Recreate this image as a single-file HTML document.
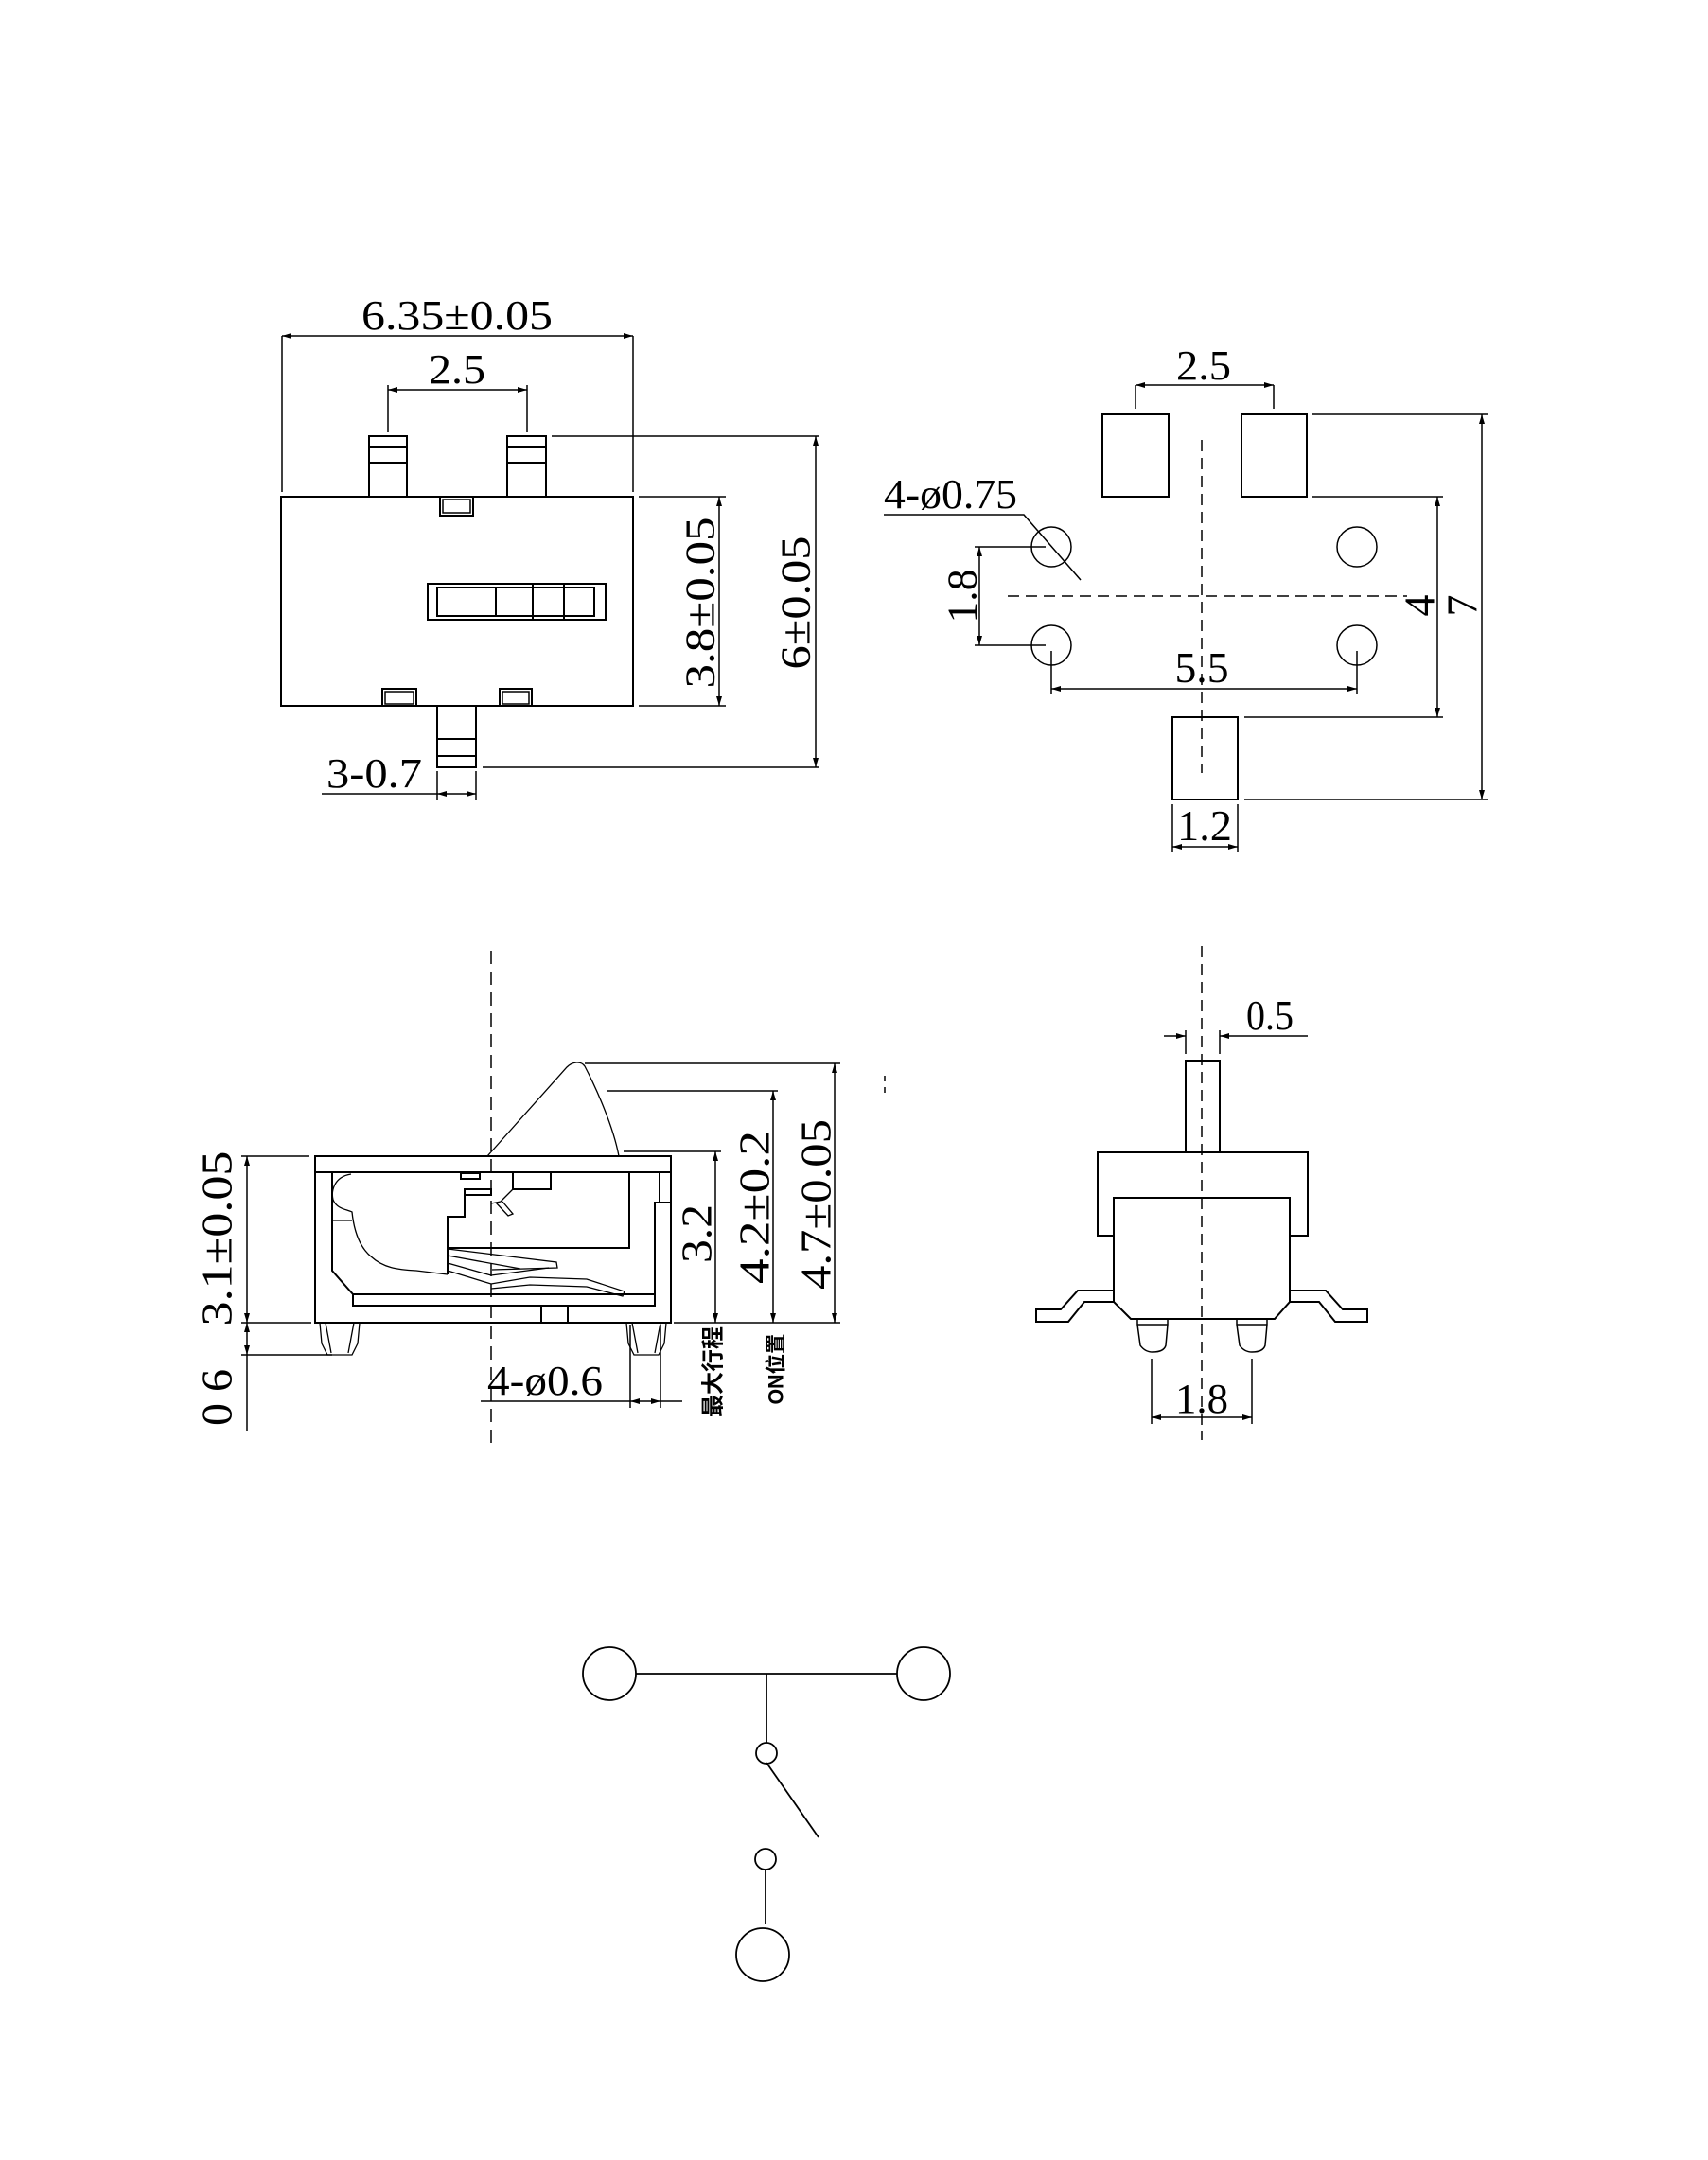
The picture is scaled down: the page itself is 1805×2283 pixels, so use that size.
<!DOCTYPE html>
<html><head><meta charset="utf-8"><style>
html,body{margin:0;padding:0;background:#fff}
svg{display:block}
text{font-family:"Liberation Serif","Noto Serif CJK SC",serif;fill:#000}
.cjk{font-family:"Liberation Sans","Noto Sans CJK SC",sans-serif}
</style></head><body>
<svg width="1805" height="2283" viewBox="0 0 1805 2283" xmlns="http://www.w3.org/2000/svg">
<defs>
<marker id="a" viewBox="0 0 10 6" refX="10" refY="3" markerWidth="10" markerHeight="6" markerUnits="userSpaceOnUse" orient="auto-start-reverse"><path d="M0,0 L10,3 L0,6 z" fill="#000"/></marker>
</defs>
<rect width="1805" height="2283" fill="#fff"/>
<g fill="none" stroke="#000" stroke-width="2">
<rect x="297" y="525" width="372" height="221"/>
<rect x="390" y="461" width="40" height="64"/><line x1="390" y1="472" x2="430" y2="472"/><line x1="390" y1="489" x2="430" y2="489"/>
<rect x="536" y="461" width="41" height="64"/><line x1="536" y1="472" x2="577" y2="472"/><line x1="536" y1="489" x2="577" y2="489"/>
<rect x="465" y="525" width="35" height="20"/><rect x="468" y="528" width="29" height="14" stroke-width="1.5"/>
<rect x="452" y="617" width="188" height="38"/><rect x="462" y="621" width="166" height="30"/>
<line x1="524" y1="621" x2="524" y2="651"/><line x1="563" y1="617" x2="563" y2="655"/><line x1="596" y1="617" x2="596" y2="655"/>
<rect x="404" y="728" width="36" height="18"/><rect x="407" y="731" width="30" height="13" stroke-width="1.5"/>
<rect x="528" y="728" width="34" height="18"/><rect x="531" y="731" width="28" height="13" stroke-width="1.5"/>
<rect x="462" y="746" width="41" height="65"/><line x1="462" y1="781" x2="503" y2="781"/><line x1="462" y1="799" x2="503" y2="799"/>
</g>
<g fill="none" stroke="#000" stroke-width="1.5">
<line x1="298" y1="355" x2="298" y2="520"/><line x1="669" y1="355" x2="669" y2="520"/>
<line x1="298" y1="355" x2="669" y2="355" marker-start="url(#a)" marker-end="url(#a)"/>
<line x1="410" y1="407" x2="410" y2="457"/><line x1="557" y1="407" x2="557" y2="457"/>
<line x1="410" y1="412" x2="557" y2="412" marker-start="url(#a)" marker-end="url(#a)"/>
<line x1="675" y1="525" x2="767" y2="525"/><line x1="675" y1="746" x2="767" y2="746"/>
<line x1="760" y1="525" x2="760" y2="746" marker-start="url(#a)" marker-end="url(#a)"/>
<line x1="583" y1="461" x2="866" y2="461"/><line x1="510" y1="811" x2="866" y2="811"/>
<line x1="862" y1="461" x2="862" y2="811" marker-start="url(#a)" marker-end="url(#a)"/>
<line x1="462" y1="815" x2="462" y2="846"/><line x1="503" y1="815" x2="503" y2="846"/>
<line x1="340" y1="839" x2="462" y2="839"/><line x1="462" y1="839" x2="503" y2="839" marker-start="url(#a)" marker-end="url(#a)"/>
</g>
<text x="483" y="348" font-size="44" text-anchor="middle" textLength="202" lengthAdjust="spacingAndGlyphs">6.35±0.05</text>
<text x="483" y="405" font-size="44" text-anchor="middle" textLength="60" lengthAdjust="spacingAndGlyphs">2.5</text>
<text x="345" y="832" font-size="44" textLength="101" lengthAdjust="spacingAndGlyphs">3-0.7</text>
<text transform="translate(740,637) rotate(-90)" font-size="44" text-anchor="middle" dominant-baseline="central" textLength="181" lengthAdjust="spacingAndGlyphs">3.8±0.05</text>
<text transform="translate(841,637) rotate(-90)" font-size="44" text-anchor="middle" dominant-baseline="central" textLength="141" lengthAdjust="spacingAndGlyphs">6±0.05</text>

<g fill="none" stroke="#000" stroke-width="2">
<rect x="1165" y="438" width="70" height="87"/><rect x="1312" y="438" width="69" height="87"/>
<rect x="1239" y="758" width="69" height="87"/>
</g>
<g fill="none" stroke="#000" stroke-width="1.5">
<circle cx="1111" cy="578" r="21"/><circle cx="1434" cy="578" r="21"/>
<circle cx="1111" cy="682" r="21"/><circle cx="1434" cy="682" r="21"/>
<line x1="1270" y1="465" x2="1270" y2="817" stroke-dasharray="12,7"/>
<line x1="1065" y1="630" x2="1487" y2="630" stroke-dasharray="12,7"/>
<line x1="1200" y1="407" x2="1200" y2="432"/><line x1="1346" y1="407" x2="1346" y2="432"/>
<line x1="1200" y1="407" x2="1346" y2="407" marker-start="url(#a)" marker-end="url(#a)"/>
<polyline points="934,544 1082,544 1142,613"/>
<line x1="1030" y1="578" x2="1105" y2="578"/><line x1="1030" y1="682" x2="1105" y2="682"/>
<line x1="1035" y1="578" x2="1035" y2="682" marker-start="url(#a)" marker-end="url(#a)"/>
<line x1="1111" y1="688" x2="1111" y2="733"/><line x1="1434" y1="688" x2="1434" y2="733"/>
<line x1="1111" y1="728" x2="1434" y2="728" marker-start="url(#a)" marker-end="url(#a)"/>
<line x1="1387" y1="525" x2="1525" y2="525"/><line x1="1315" y1="758" x2="1525" y2="758"/>
<line x1="1519" y1="525" x2="1519" y2="758" marker-start="url(#a)" marker-end="url(#a)"/>
<line x1="1387" y1="438" x2="1573" y2="438"/><line x1="1315" y1="845" x2="1573" y2="845"/>
<line x1="1566" y1="438" x2="1566" y2="845" marker-start="url(#a)" marker-end="url(#a)"/>
<line x1="1239" y1="850" x2="1239" y2="900"/><line x1="1308" y1="850" x2="1308" y2="900"/>
<line x1="1239" y1="895" x2="1308" y2="895" marker-start="url(#a)" marker-end="url(#a)"/>
</g>
<text x="1272" y="401" font-size="44" text-anchor="middle" textLength="58" lengthAdjust="spacingAndGlyphs">2.5</text>
<text x="934" y="537" font-size="44" textLength="141" lengthAdjust="spacingAndGlyphs">4-ø0.75</text>
<text transform="translate(1017,630) rotate(-90)" font-size="44" text-anchor="middle" dominant-baseline="central" textLength="57" lengthAdjust="spacingAndGlyphs">1.8</text>
<text x="1270" y="721" font-size="46" text-anchor="middle" textLength="57" lengthAdjust="spacingAndGlyphs">5.5</text>
<text transform="translate(1500,640) rotate(-90)" font-size="46" text-anchor="middle" dominant-baseline="central">4</text>
<text transform="translate(1545,640) rotate(-90)" font-size="46" text-anchor="middle" dominant-baseline="central">7</text>
<text x="1273" y="888" font-size="46" text-anchor="middle" textLength="58" lengthAdjust="spacingAndGlyphs">1.2</text>

<g fill="none" stroke="#000" stroke-width="2">
<rect x="333" y="1222" width="376" height="176"/>
<line x1="333" y1="1239" x2="709" y2="1239"/>
<polyline points="351,1239 351,1343 373,1368"/>
<rect x="373" y="1368" width="319" height="12"/>
<rect x="572" y="1380" width="28" height="18"/>
<polyline points="692,1368 692,1271 709,1271"/>
<polyline points="697,1239 697,1271"/>
<polyline points="665,1239 665,1319 473,1319"/>
<rect x="487" y="1240" width="20" height="6"/>
<rect x="491" y="1257" width="28" height="6"/>
<polyline points="491,1257 491,1286 473,1286 473,1347"/>
<rect x="542" y="1239" width="40" height="18"/>
</g>
<g fill="none" stroke="#000" stroke-width="1.3">
<path d="M371,1241 C352,1244 350,1260 352,1268 C356,1278 366,1278 372,1281 C374,1300 380,1318 392,1328 C405,1340 420,1342 440,1343 L473,1347"/>
<line x1="351" y1="1290" x2="372" y2="1290"/>
<polyline points="542,1257 529,1270 519,1272"/>
<polyline points="524,1271 537,1285 542,1283 531,1270"/>
<polyline points="473,1320 588,1334 589,1340 520,1342"/>
<polyline points="473,1327 550,1341"/>
<polyline points="473,1335 519,1348 580,1340"/>
<polyline points="473,1343 519,1357 560,1350 620,1352 660,1365 658,1370 620,1360 560,1358 519,1362"/>
<path d="M515,1222 L599,1128 C605,1122 614,1121 618,1127 C630,1150 648,1190 654,1222"/>
<path d="M338,1398 L340,1420 L346,1432 L372,1432 L378,1420 L380,1398 M344,1398 L350,1430 M374,1398 L368,1430"/>
<path d="M662,1398 L664,1420 L670,1432 L696,1432 L702,1420 L704,1398 M668,1398 L674,1430 M698,1398 L692,1430"/>
</g>
<g fill="none" stroke="#000" stroke-width="1.5">
<line x1="519" y1="1005" x2="519" y2="1526" stroke-dasharray="14,8"/>
<line x1="618" y1="1124" x2="888" y2="1124"/><line x1="642" y1="1153" x2="822" y2="1153"/><line x1="659" y1="1217" x2="762" y2="1217"/>
<line x1="712" y1="1398" x2="888" y2="1398"/>
<line x1="882" y1="1124" x2="882" y2="1398" marker-start="url(#a)" marker-end="url(#a)"/>
<line x1="817" y1="1153" x2="817" y2="1398" marker-start="url(#a)" marker-end="url(#a)"/>
<line x1="756" y1="1217" x2="756" y2="1398" marker-start="url(#a)" marker-end="url(#a)"/>
<line x1="255" y1="1222" x2="327" y2="1222"/><line x1="255" y1="1398" x2="329" y2="1398"/><line x1="255" y1="1432" x2="351" y2="1432"/>
<line x1="261" y1="1222" x2="261" y2="1398" marker-start="url(#a)" marker-end="url(#a)"/>
<line x1="261" y1="1398" x2="261" y2="1432" marker-start="url(#a)" marker-end="url(#a)"/>
<line x1="261" y1="1432" x2="261" y2="1513"/>
<line x1="666" y1="1400" x2="666" y2="1488"/><line x1="698" y1="1400" x2="698" y2="1488"/>
<line x1="508" y1="1481" x2="666" y2="1481"/><line x1="666" y1="1481" x2="698" y2="1481" marker-start="url(#a)" marker-end="url(#a)"/><line x1="698" y1="1481" x2="721" y2="1481"/>
<line x1="935" y1="1137" x2="935" y2="1143"/><line x1="935" y1="1149" x2="935" y2="1155"/>
</g>
<text transform="translate(229,1309) rotate(-90)" font-size="46" text-anchor="middle" dominant-baseline="central" textLength="185" lengthAdjust="spacingAndGlyphs">3.1±0.05</text>
<text transform="translate(229,1477) rotate(-90)" font-size="46" text-anchor="middle" dominant-baseline="central" textLength="60" lengthAdjust="spacingAndGlyphs">0 6</text>
<text transform="translate(736,1304) rotate(-90)" font-size="46" text-anchor="middle" dominant-baseline="central" textLength="62" lengthAdjust="spacingAndGlyphs">3.2</text>
<text transform="translate(797,1276) rotate(-90)" font-size="46" text-anchor="middle" dominant-baseline="central" textLength="162" lengthAdjust="spacingAndGlyphs">4.2±0.2</text>
<text transform="translate(862,1273) rotate(-90)" font-size="46" text-anchor="middle" dominant-baseline="central" textLength="180" lengthAdjust="spacingAndGlyphs">4.7±0.05</text>
<text x="515" y="1474" font-size="44" textLength="122" lengthAdjust="spacingAndGlyphs">4-ø0.6</text>
<text class="cjk" transform="translate(754,1450) rotate(-90)" font-size="24" font-weight="bold" text-anchor="middle" dominant-baseline="central" textLength="96" lengthAdjust="spacingAndGlyphs">最大行程</text>
<text class="cjk" transform="translate(820,1447) rotate(-90)" font-size="22" font-weight="bold" text-anchor="middle" dominant-baseline="central" textLength="75" lengthAdjust="spacingAndGlyphs">ON位置</text>

<g fill="none" stroke="#000" stroke-width="2">
<rect x="1253" y="1121" width="36" height="97"/>
<rect x="1160" y="1218" width="222" height="88"/>
<path d="M1177,1266 L1363,1266 L1363,1376 L1347,1394 L1195,1394 L1177,1376 Z" fill="#fff"/>
<path d="M1177,1364 L1139,1364 L1121,1384 L1095,1384 L1095,1397 L1129,1397 L1146,1376 L1177,1376"/>
<path d="M1363,1364 L1401,1364 L1419,1384 L1445,1384 L1445,1397 L1411,1397 L1394,1376 L1363,1376"/>
</g>
<g fill="none" stroke="#000" stroke-width="1.5">
<path d="M1202,1394 L1202,1400 L1205,1422 Q1210,1429 1218,1429 Q1230,1429 1232,1422 L1234,1400 L1234,1394 M1202,1400 L1234,1400"/>
<path d="M1307,1394 L1307,1400 L1310,1422 Q1315,1429 1323,1429 Q1335,1429 1337,1422 L1339,1400 L1339,1394 M1307,1400 L1339,1400"/>
<line x1="1270" y1="1000" x2="1270" y2="1522" stroke-dasharray="12,7"/>
<line x1="1253" y1="1089" x2="1253" y2="1114"/><line x1="1289" y1="1089" x2="1289" y2="1114"/>
<line x1="1230" y1="1095" x2="1253" y2="1095" marker-end="url(#a)"/>
<line x1="1382" y1="1095" x2="1289" y2="1095" marker-end="url(#a)"/>
<line x1="1217" y1="1436" x2="1217" y2="1505"/><line x1="1323" y1="1436" x2="1323" y2="1505"/>
<line x1="1217" y1="1498" x2="1323" y2="1498" marker-start="url(#a)" marker-end="url(#a)"/>
</g>
<text x="1342" y="1088" font-size="44" text-anchor="middle" textLength="50" lengthAdjust="spacingAndGlyphs">0.5</text>
<text x="1270" y="1493" font-size="44" text-anchor="middle" textLength="56" lengthAdjust="spacingAndGlyphs">1.8</text>

<g fill="none" stroke="#000" stroke-width="1.8">
<circle cx="644" cy="1769" r="28"/><circle cx="976" cy="1769" r="28"/>
<line x1="672" y1="1769" x2="948" y2="1769"/>
<line x1="810" y1="1769" x2="810" y2="1842"/>
<circle cx="810" cy="1853" r="11"/>
<line x1="810" y1="1863" x2="865" y2="1942"/>
<circle cx="809" cy="1965" r="11"/>
<line x1="809" y1="1976" x2="809" y2="2034"/>
<circle cx="806" cy="2066" r="28"/>
</g>
</svg>
</body></html>
